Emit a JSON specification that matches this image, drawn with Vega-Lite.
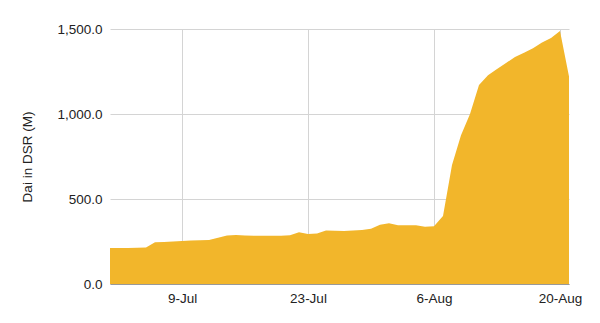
{
  "$schema": "https://vega.github.io/schema/vega-lite/v6.json",
  "width": 459,
  "height": 255,
  "autosize": {"type": "none"},
  "padding": {"left": 110, "top": 29, "right": 31, "bottom": 39},
  "background": "white",
  "config": {
    "view": {"stroke": null},
    "font": "Liberation Sans",
    "axis": {"labelFont": "Liberation Sans", "titleFont": "Liberation Sans"}
  },
  "data": {
    "values": [
      {"date": "2023-07-01", "dai": 212},
      {"date": "2023-07-02", "dai": 212},
      {"date": "2023-07-03", "dai": 212},
      {"date": "2023-07-04", "dai": 213},
      {"date": "2023-07-05", "dai": 215},
      {"date": "2023-07-06", "dai": 245},
      {"date": "2023-07-07", "dai": 247},
      {"date": "2023-07-08", "dai": 250},
      {"date": "2023-07-09", "dai": 253},
      {"date": "2023-07-10", "dai": 256},
      {"date": "2023-07-11", "dai": 258},
      {"date": "2023-07-12", "dai": 259},
      {"date": "2023-07-13", "dai": 272},
      {"date": "2023-07-14", "dai": 286},
      {"date": "2023-07-15", "dai": 288},
      {"date": "2023-07-16", "dai": 286},
      {"date": "2023-07-17", "dai": 284},
      {"date": "2023-07-18", "dai": 284},
      {"date": "2023-07-19", "dai": 284},
      {"date": "2023-07-20", "dai": 284},
      {"date": "2023-07-21", "dai": 287},
      {"date": "2023-07-22", "dai": 304},
      {"date": "2023-07-23", "dai": 294},
      {"date": "2023-07-24", "dai": 297},
      {"date": "2023-07-25", "dai": 314},
      {"date": "2023-07-26", "dai": 313},
      {"date": "2023-07-27", "dai": 312},
      {"date": "2023-07-28", "dai": 314},
      {"date": "2023-07-29", "dai": 318},
      {"date": "2023-07-30", "dai": 325},
      {"date": "2023-07-31", "dai": 348},
      {"date": "2023-08-01", "dai": 357},
      {"date": "2023-08-02", "dai": 346},
      {"date": "2023-08-03", "dai": 345},
      {"date": "2023-08-04", "dai": 345},
      {"date": "2023-08-05", "dai": 337},
      {"date": "2023-08-06", "dai": 340},
      {"date": "2023-08-07", "dai": 400},
      {"date": "2023-08-08", "dai": 700},
      {"date": "2023-08-09", "dai": 875},
      {"date": "2023-08-10", "dai": 1000},
      {"date": "2023-08-11", "dai": 1170},
      {"date": "2023-08-12", "dai": 1228},
      {"date": "2023-08-13", "dai": 1265},
      {"date": "2023-08-14", "dai": 1300},
      {"date": "2023-08-15", "dai": 1335},
      {"date": "2023-08-16", "dai": 1360},
      {"date": "2023-08-17", "dai": 1387},
      {"date": "2023-08-18", "dai": 1420},
      {"date": "2023-08-19", "dai": 1447},
      {"date": "2023-08-20", "dai": 1488},
      {"date": "2023-08-21", "dai": 1220}
    ]
  },
  "mark": {"type": "area", "color": "#F2B62B", "interpolate": "linear"},
  "encoding": {
    "x": {
      "field": "date",
      "type": "temporal",
      "scale": {"type": "utc", "domain": [{"year": 2023, "month": 7, "date": 1, "utc": true}, {"year": 2023, "month": 8, "date": 21, "utc": true}]},
      "axis": {
        "title": null,
        "values": [
          {"year": 2023, "month": 7, "date": 9, "utc": true},
          {"year": 2023, "month": 7, "date": 23, "utc": true},
          {"year": 2023, "month": 8, "date": 6, "utc": true},
          {"year": 2023, "month": 8, "date": 20, "utc": true}
        ],
        "format": "%-d-%b",
        "labelFontSize": 13.5,
        "labelColor": "#222222",
        "labelPadding": 7,
        "ticks": false,
        "domainColor": "#999999",
        "domainWidth": 1,
        "gridColor": "#d4d4d4",
        "gridWidth": 1,
        "labelFlush": false
      }
    },
    "y": {
      "field": "dai",
      "type": "quantitative",
      "scale": {"domain": [0, 1500], "nice": false},
      "axis": {
        "title": "Dai in DSR (M)",
        "values": [0, 500, 1000, 1500],
        "format": ",.1f",
        "labelFontSize": 13.5,
        "labelColor": "#222222",
        "labelPadding": 8,
        "ticks": false,
        "domain": false,
        "gridColor": "#d4d4d4",
        "gridWidth": 1,
        "titleFontSize": 13.5,
        "titleFontWeight": "normal",
        "titleColor": "#222222",
        "titlePadding": 22
      }
    }
  }
}
